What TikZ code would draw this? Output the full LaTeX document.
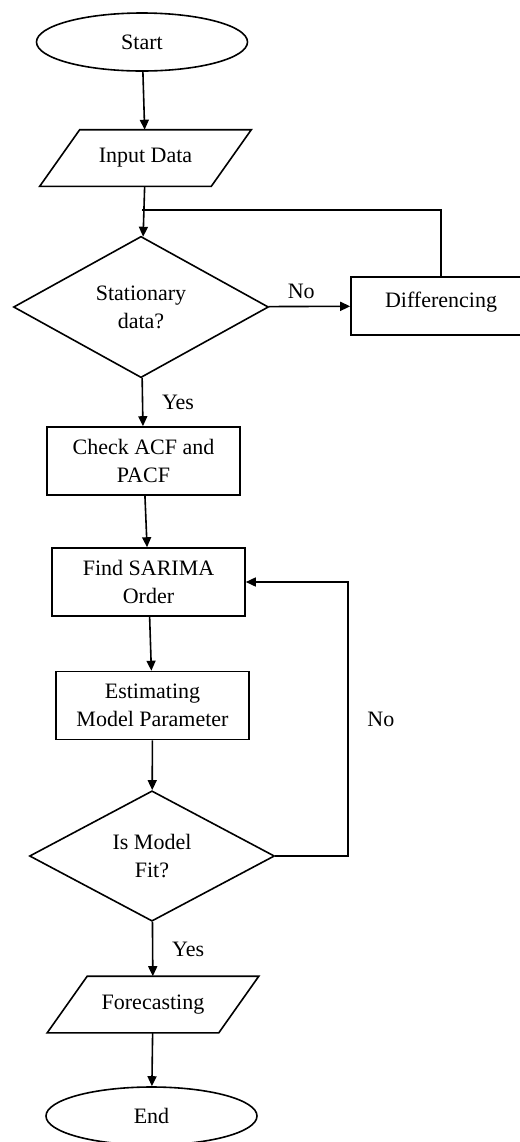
\documentclass[tikz,border=0pt]{standalone}
\usepackage{fontspec}
\setmainfont{Liberation Serif}
\usetikzlibrary{
  arrows.meta,
  positioning,
  shapes.geometric
}

\begin{document}
\begin{tikzpicture}[
  x=0.5pt, y=-0.5pt,
  every node/.style={font=\fontsize{11}{14}\selectfont, align=center},
  >={Triangle[length=5pt, width=4.5pt]},
  line width=0.8pt,
  startstop/.style={draw, ellipse, minimum width=105.5pt, minimum height=29pt, inner sep=1pt},
  io/.style={rectangle, minimum width=85pt, minimum height=27.5pt, inner sep=1pt},
  process/.style={draw, rectangle, minimum width=96.5pt, minimum height=34pt, inner sep=1pt},
  decision/.style={draw, diamond, minimum width=125pt, minimum height=63pt, inner sep=1pt}
]
\useasboundingbox (0,0) rectangle (520,1142);

% Main column
\node[startstop] (start) at (142,42) {Start};
\node[io] (input) at (145.5,158) {Input Data};
\node[decision, minimum width=127.5pt, minimum height=63.5pt] (stat) at (141,307) {Stationary\\data?};
\node[process, minimum width=90pt, minimum height=29pt] (diff) at (441,306) {Differencing\\[-8pt]};
\node[process] (acf) at (143.5,461) {Check ACF and\\PACF};
\node[process] (order) at (148.5,582) {Find SARIMA\\Order};
\node[process] (param) at (152.5,705.5) {Estimating\\Model Parameter};
\node[decision, minimum width=122.5pt, minimum height=62.5pt] (fit) at (152,856) {Is Model\\Fit?};
\node[io] (fcast) at (153,1004.5) {Forecasting};
\node[startstop] (end) at (151.5,1116) {End};

% Slanted input/output boxes
\foreach \n in {input,fcast}
  \draw ([xshift=-10pt]\n.south west) -- ([xshift=10pt]\n.north west)
    -- ([xshift=10pt]\n.north east) -- ([xshift=-10pt]\n.south east) -- cycle;

% Loop points
\coordinate (join) at (142,210);
\coordinate (fitloop) at (348,856);

% Arrows
\draw[->] (start) -- (input);
\draw[->] (input) -- (stat);
\draw[->] (stat) -- node[above, pos=0.4] {No} (diff);
\draw (diff.north) |- (join);
\draw[->] (stat) -- node[right=6pt] {Yes} (acf);
\draw[->] (acf) -- (order);
\draw[->] (order) -- (param);
\draw[->] (param) -- (fit);
\draw[->] (fit.east) -- (fitloop) |- node[pos=0.25, right=6pt] {No} (order.east);
\draw[->] (fit) -- node[right=6pt] {Yes} (fcast);
\draw[->] (fcast) -- (end);

\end{tikzpicture}
\end{document}
